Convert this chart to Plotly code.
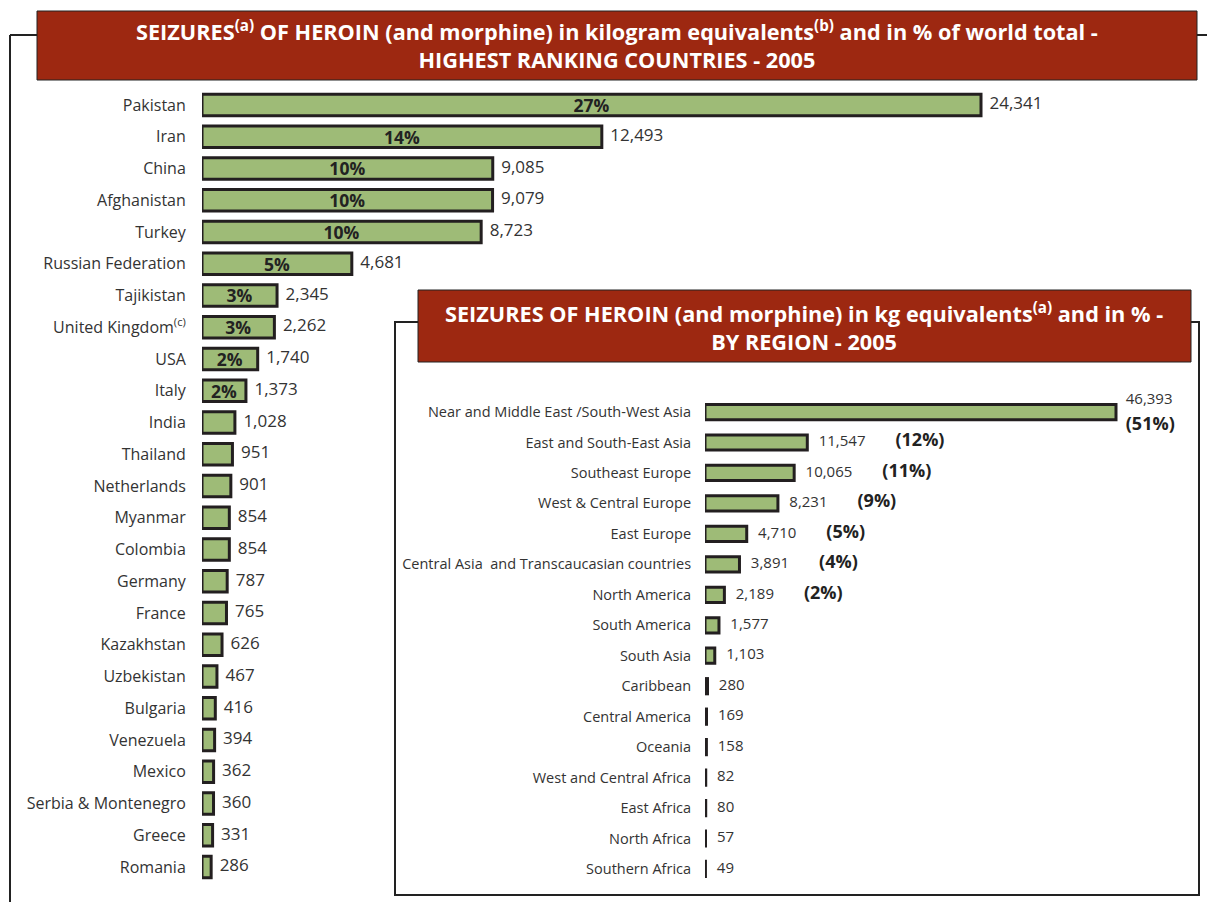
import plotly.graph_objects as go

# ---------------- data ----------------
countries = ["Pakistan", "Iran", "China", "Afghanistan", "Turkey", "Russian Federation",
             "Tajikistan", "United Kingdom<sup>(c)</sup>", "USA", "Italy", "India", "Thailand",
             "Netherlands", "Myanmar", "Colombia", "Germany", "France", "Kazakhstan",
             "Uzbekistan", "Bulgaria", "Venezuela", "Mexico", "Serbia & Montenegro",
             "Greece", "Romania"]
country_kg = [24341, 12493, 9085, 9079, 8723, 4681, 2345, 2262, 1740, 1373, 1028, 951,
              901, 854, 854, 787, 765, 626, 467, 416, 394, 362, 360, 331, 286]
country_pct = ["27%", "14%", "10%", "10%", "10%", "5%", "3%", "3%", "2%", "2%"] + [""] * 15

regions = ["Near and Middle East /South-West Asia", "East and South-East Asia",
           "Southeast Europe", "West & Central Europe", "East Europe",
           "Central Asia  and Transcaucasian countries", "North America", "South America",
           "South Asia", "Caribbean", "Central America", "Oceania",
           "West and Central Africa", "East Africa", "North Africa", "Southern Africa"]
region_kg = [46393, 11547, 10065, 8231, 4710, 3891, 2189, 1577, 1103, 280, 169, 158,
             82, 80, 57, 49]
region_pct = ["51%", "12%", "11%", "9%", "5%", "4%", "2%"] + [""] * 9

title_main = ("SEIZURES<sup>(a)</sup> OF HEROIN (and morphine) in kilogram equivalents"
              "<sup>(b)</sup> and in % of world total -<br>HIGHEST RANKING COUNTRIES - 2005")
title_inset = ("SEIZURES OF HEROIN (and morphine) in kg equivalents<sup>(a)</sup> "
               "and in % -<br>BY REGION - 2005")

# ---------------- style ----------------
W, H = 1207, 902
FONT = "Open Sans"
GREEN = "#9ebb77"
EDGE = "#231f20"
RED = "#9d2811"
TXT = "#333333"


def px(x):
    return x / W


def py(y):
    return 1 - y / H


fig = go.Figure()

# main chart
fig.add_trace(go.Bar(
    x=country_kg, y=countries, orientation="h",
    marker=dict(color=GREEN, line=dict(color=EDGE, width=3)),
    width=0.68,
    text=[f"<b>{p}</b>" if p else None for p in country_pct], textposition="inside",
    insidetextanchor="middle", constraintext="none",
    insidetextfont=dict(family=FONT, size=17.5, color="#222222"),
    xaxis="x", yaxis="y", hoverinfo="skip", showlegend=False))
fig.add_trace(go.Scatter(
    x=country_kg, y=countries, mode="text",
    text=[f"\u2002{v:,}" for v in country_kg], textposition="middle right",
    textfont=dict(family=FONT, size=17, color=TXT),
    xaxis="x", yaxis="y", hoverinfo="skip", showlegend=False, cliponaxis=False))

# inset chart
fig.add_trace(go.Bar(
    x=region_kg, y=regions, orientation="h",
    marker=dict(color=GREEN, line=dict(color=EDGE, width=3)),
    width=0.5, xaxis="x2", yaxis="y2", hoverinfo="skip", showlegend=False))

PCT = "<b><span style='font-size:18px;color:#222222'>({})</span></b>"
region_text = []
region_size = []
for i, (v, p) in enumerate(zip(region_kg, region_pct)):
    if i == 0:
        # stacked label: value above, share below (larger base size -> wider line gap)
        region_text.append(f"\u2002<span style='font-size:15px'>{v:,}</span><br>\u2002" + PCT.format(p))
        region_size.append(19.5)
    elif p:
        region_text.append(f"\u2002\u00a0{v:,}\u2003\u2003" + PCT.format(p))
        region_size.append(15)
    else:
        region_text.append(f"\u2002\u00a0{v:,}")
        region_size.append(15)
fig.add_trace(go.Scatter(
    x=region_kg, y=regions, mode="text",
    text=region_text, textposition="middle right",
    textfont=dict(family=FONT, size=region_size, color=TXT),
    xaxis="x2", yaxis="y2", hoverinfo="skip", showlegend=False, cliponaxis=False))

# ---------------- decorations ----------------
shapes = []
line = dict(color="#222222", width=2)
# main frame
shapes.append(dict(type="line", xref="paper", yref="paper", x0=px(10), x1=px(10), y0=py(35), y1=py(905), line=line))
shapes.append(dict(type="line", xref="paper", yref="paper", x0=px(10), x1=px(37), y0=py(35), y1=py(35), line=line))
shapes.append(dict(type="line", xref="paper", yref="paper", x0=px(1197), x1=px(1210), y0=py(35), y1=py(35), line=line))
# inset frame
shapes.append(dict(type="rect", xref="paper", yref="paper", x0=px(395), x1=px(1199), y0=py(322), y1=py(895),
                   line=line, fillcolor="white", layer="below"))
# banners
shapes.append(dict(type="rect", xref="paper", yref="paper", x0=px(37), x1=px(1197), y0=py(11), y1=py(80),
                   line=dict(color="#222222", width=1), fillcolor=RED))
shapes.append(dict(type="rect", xref="paper", yref="paper", x0=px(418), x1=px(1191), y0=py(290), y1=py(362),
                   line=dict(color="#222222", width=1), fillcolor=RED))

annotations = [
    dict(xref="paper", yref="paper", x=px(617), y=py(44.5), text=title_main, showarrow=False,
         font=dict(family=FONT, size=21.7, color="white"), align="center", xanchor="center", yanchor="middle"),
    dict(xref="paper", yref="paper", x=px(804), y=py(326.5), text=title_inset, showarrow=False,
         font=dict(family=FONT, size=21.7, color="white"), align="center", xanchor="center", yanchor="middle"),
]
for a in annotations:
    a["text"] = "<b>" + a["text"].replace("<br>", "</b><br><b>") + "</b>"

main_scale = (981 - 202) / 24341
inset_scale = (1116 - 705) / 46393
n_c = len(countries)
n_r = len(regions)

fig.update_layout(
    width=W, height=H, margin=dict(l=0, r=0, t=0, b=0),
    paper_bgcolor="white", plot_bgcolor="rgba(0,0,0,0)",
    font=dict(family=FONT, color=TXT),
    shapes=shapes, annotations=annotations, barmode="overlay",
    xaxis=dict(domain=[px(202), px(1190)], range=[0, (1190 - 202) / main_scale],
               visible=False, fixedrange=True),
    yaxis=dict(domain=[py(882.9), py(89.1)], range=[n_c - 0.5, -0.5], categoryorder="array",
               categoryarray=countries, showgrid=False, zeroline=False, showline=False,
               ticks="outside", ticklen=12, tickcolor="rgba(0,0,0,0)",
               tickfont=dict(family=FONT, size=16, color=TXT), fixedrange=True),
    xaxis2=dict(domain=[px(705), px(1190)], range=[0, (1190 - 705) / inset_scale],
                visible=False, anchor="y2", fixedrange=True),
    yaxis2=dict(domain=[py(884.2), py(396.8)], range=[n_r - 0.5, -0.5], categoryorder="array",
                categoryarray=regions, anchor="x2", showgrid=False, zeroline=False, showline=False,
                ticks="outside", ticklen=10, tickcolor="rgba(0,0,0,0)",
                tickfont=dict(family=FONT, size=14.5, color=TXT), fixedrange=True),
)

fig.write_html("out.html", config={"displayModeBar": False},
               post_script="document.body.style.margin='0';")
